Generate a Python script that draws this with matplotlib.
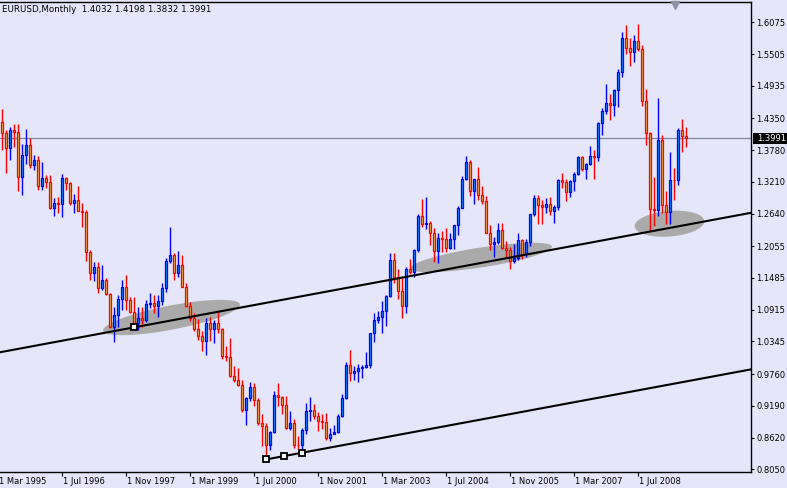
import numpy as np
import matplotlib
matplotlib.use("Agg")
import matplotlib.pyplot as plt
from matplotlib.patches import Polygon, Rectangle
from matplotlib.transforms import blended_transform_factory

# EURUSD monthly bars, bar 1 = Apr 1995 (months counted from Mar 1995)
opens = [1.4285, 1.4088, 1.3818, 1.4142, 1.4106, 1.3298, 1.3693, 1.3872, 1.3513, 1.3603,
         1.3136, 1.3280, 1.3208, 1.2741, 1.2831, 1.2813, 1.3280, 1.3190, 1.2831, 1.2885,
         1.2687, 1.2669, 1.1951, 1.1574, 1.1682, 1.1305, 1.1448, 1.1197, 1.0605, 1.0820,
         1.1107, 1.1323, 1.1089, 1.0874, 1.0677, 1.0766, 1.0730, 1.1018, 1.1036, 1.0982,
         1.1071, 1.1305, 1.1790, 1.1897, 1.1574, 1.1718, 1.1330, 1.0985, 1.0770, 1.0575,
         1.0435, 1.0348, 1.0675, 1.0570, 1.0682, 1.0575, 1.0080, 1.0070, 0.9725, 0.9645,
         0.9560, 0.9120, 0.9330, 0.9530, 0.9300, 0.8880, 0.8825, 0.8480, 0.8725, 0.9390,
         0.9350, 0.9200, 0.8790, 0.8890, 0.8490, 0.8480, 0.8750, 0.9100, 0.9110, 0.9000,
         0.8920, 0.8900, 0.8610, 0.8690, 0.8720, 0.9010, 0.9330, 0.9920, 0.9780, 0.9810,
         0.9870, 0.9890, 0.9920, 1.0490, 1.0730, 1.0790, 1.0900, 1.1160, 1.1800, 1.1500,
         1.1250, 1.0980, 1.1650, 1.1600, 1.1990, 1.2590, 1.2450, 1.2480, 1.2300, 1.1970,
         1.2200, 1.2180, 1.2020, 1.2180, 1.2430, 1.2750, 1.3270, 1.3560, 1.3040, 1.3260,
         1.2970, 1.2870, 1.2300, 1.2100, 1.2130, 1.2340, 1.2020, 1.1990, 1.1790, 1.1840,
         1.2160, 1.1920, 1.2130, 1.2630, 1.2920, 1.2790, 1.2760, 1.2810, 1.2680, 1.2760,
         1.3240, 1.3200, 1.3030, 1.3230, 1.3350, 1.3650, 1.3450, 1.3530, 1.3680, 1.3650,
         1.4260, 1.4480, 1.4630, 1.4590, 1.4860, 1.5180, 1.5790, 1.5610, 1.5550, 1.5740,
         1.5600, 1.4670, 1.4090, 1.2730, 1.2700, 1.3970, 1.2800, 1.2670, 1.3250, 1.3240,
         1.4150, 1.4032]
highs = [1.4519, 1.4142, 1.4195, 1.4249, 1.4249, 1.3890, 1.4160, 1.3998, 1.3693, 1.3675,
         1.3567, 1.3334, 1.3334, 1.2921, 1.2939, 1.3352, 1.3298, 1.3208, 1.2993, 1.3136,
         1.2831, 1.2705, 1.1990, 1.1772, 1.1772, 1.1718, 1.1484, 1.1215, 1.0964, 1.1179,
         1.1448, 1.1538, 1.1143, 1.1143, 1.0964, 1.0964, 1.1089, 1.1215, 1.1179, 1.1179,
         1.1395, 1.1843, 1.2400, 1.1933, 1.1969, 1.1904, 1.1400, 1.1055, 1.0860, 1.0750,
         1.0530, 1.0760, 1.0780, 1.0730, 1.0880, 1.0580, 1.0270, 1.0410, 0.9900, 0.9860,
         0.9660, 0.9350, 0.9620, 0.9600, 0.9330, 0.9040, 0.8880, 0.8730, 0.9450, 0.9595,
         0.9370, 0.9370, 0.9100, 0.8950, 0.8640, 0.8790, 0.9240, 0.9340, 0.9230, 0.9080,
         0.9050, 0.9060, 0.8790, 0.8840, 0.9050, 0.9400, 0.9970, 1.0190, 0.9900, 0.9940,
         0.9930, 1.0150, 1.0490, 1.0860, 1.0900, 1.1080, 1.1180, 1.1930, 1.1930, 1.1640,
         1.1490, 1.1680, 1.1830, 1.2010, 1.2640, 1.2900, 1.2930, 1.2500, 1.2380, 1.2290,
         1.2320, 1.2390, 1.2300, 1.2430, 1.2780, 1.3310, 1.3670, 1.3600, 1.3270, 1.3480,
         1.3130, 1.2950, 1.2440, 1.2220, 1.2480, 1.2470, 1.2140, 1.2040, 1.2100, 1.2300,
         1.2190, 1.2180, 1.2640, 1.2980, 1.2970, 1.2890, 1.2920, 1.2930, 1.2790, 1.3260,
         1.3370, 1.3260, 1.3250, 1.3390, 1.3680, 1.3680, 1.3550, 1.3850, 1.3790, 1.4280,
         1.4530, 1.4970, 1.4780, 1.4880, 1.5240, 1.5900, 1.6020, 1.5800, 1.5840, 1.6038,
         1.5670, 1.4870, 1.4110, 1.3300, 1.4720, 1.4060, 1.3050, 1.3740, 1.3460, 1.4170,
         1.4340, 1.4198]
lows = [1.3782, 1.3370, 1.3603, 1.3836, 1.3046, 1.2975, 1.3531, 1.3459, 1.3423, 1.3064,
        1.3064, 1.3100, 1.2723, 1.2598, 1.2651, 1.2580, 1.3064, 1.2795, 1.2651, 1.2680,
        1.2400, 1.1790, 1.1448, 1.1430, 1.1215, 1.1269, 1.1179, 1.0587, 1.0335, 1.0605,
        1.0910, 1.0910, 1.0856, 1.0599, 1.0551, 1.0605, 1.0695, 1.0946, 1.0856, 1.0784,
        1.1000, 1.1233, 1.1754, 1.1448, 1.1502, 1.1320, 1.0960, 1.0710, 1.0540, 1.0375,
        1.0180, 1.0110, 1.0350, 1.0320, 1.0490, 1.0030, 0.9990, 0.9700, 0.9610, 0.9540,
        0.9080, 0.8840, 0.9270, 0.9180, 0.8840, 0.8470, 0.8228, 0.8400, 0.8700, 0.9190,
        0.9050, 0.8780, 0.8760, 0.8440, 0.8420, 0.8350, 0.8680, 0.8910, 0.8950, 0.8740,
        0.8780, 0.8580, 0.8560, 0.8680, 0.8700, 0.8990, 0.9310, 0.9640, 0.9660, 0.9610,
        0.9690, 0.9870, 0.9860, 1.0330, 1.0680, 1.0500, 1.0630, 1.1150, 1.1400, 1.1110,
        1.0760, 1.0850, 1.1550, 1.1500, 1.1960, 1.2400, 1.2370, 1.2080, 1.1770, 1.1760,
        1.1960, 1.1950, 1.2000, 1.2000, 1.2260, 1.2740, 1.3250, 1.2960, 1.2810, 1.2880,
        1.2810, 1.2290, 1.1980, 1.1870, 1.2090, 1.2000, 1.1870, 1.1640, 1.1750, 1.1800,
        1.1830, 1.1860, 1.2060, 1.2600, 1.2460, 1.2460, 1.2660, 1.2620, 1.2480, 1.2700,
        1.3100, 1.2860, 1.2940, 1.3050, 1.3330, 1.3410, 1.3260, 1.3520, 1.3260, 1.3580,
        1.4050, 1.4420, 1.4320, 1.4400, 1.4550, 1.5100, 1.5510, 1.5290, 1.5370, 1.5560,
        1.4580, 1.3880, 1.2330, 1.2420, 1.2600, 1.2660, 1.2460, 1.2460, 1.2890, 1.3160,
        1.3750, 1.3832]
closes = opens[1:] + [1.3991]
closes[170] = 1.4030

date_labels = ["1 Mar 1995", "1 Jul 1996", "1 Nov 1997", "1 Mar 1999", "1 Jul 2000",
               "1 Nov 2001", "1 Mar 2003", "1 Jul 2004", "1 Nov 2005", "1 Mar 2007",
               "1 Jul 2008"]
date_months = [0, 16, 32, 48, 64, 80, 96, 112, 128, 144, 160]
price_ticks = [1.6075, 1.5505, 1.4935, 1.4350, 1.3780, 1.3210, 1.2640, 1.2055,
               1.1485, 1.0915, 1.0345, 0.9760, 0.9190, 0.8620, 0.8050]
last_price = 1.3991
title = "EURUSD,Monthly  1.4032 1.4198 1.3832 1.3991"

# channel: base line anchors and one point on the parallel line
base_months = [67, 76]
base_prices = [0.8228, 0.8348]
upper_month = 34
upper_price = 1.0599

# grey ellipses: centre month, centre price, half length (months), half height, tilt
ellipses = [(43.3, 1.0775, 17.1, 0.022, 0.00134),
            (120.7, 1.1853, 17.7, 0.018, 0.00109),
            (167.8, 1.2459, 8.7, 0.023, 0.0005)]

BG = "#e6e6fa"
fig = plt.figure(figsize=(7.87, 4.88), dpi=100)
fig.patch.set_facecolor(BG)
ax = fig.add_axes([0, 16 / 488, 751 / 787, 470.3 / 488])
ax.set_facecolor(BG)
ax.set_xlim(0.425, 188.175)
ax.set_ylim(0.80015, 1.64449)

o = np.array(opens)
h = np.array(highs)
l = np.array(lows)
c = np.array(closes)
x = np.arange(1, len(c) + 1)
up = c > o

for cm, cp, a, b, tilt in ellipses:
    t = np.linspace(0, 2 * np.pi, 120)
    pts = np.column_stack([cm + a * np.cos(t), cp + a * tilt * np.cos(t) + b * np.sin(t)])
    ax.add_patch(Polygon(pts, closed=True, fc="#aaaaaa", ec="none", zorder=1))

ax.axhline(last_price, color="#7f8898", lw=0.9, zorder=1.5)

for mask, edge, fill in [(up, "#0000ff", "#0096ff"), (~up, "#ff0000", "#e0c050")]:
    ax.vlines(x[mask], l[mask], h[mask], color=edge, lw=1.0, zorder=2)
    ax.bar(x[mask], np.abs(c - o)[mask], bottom=np.minimum(o, c)[mask], width=0.55,
           color=fill, edgecolor=edge, lw=0.9, zorder=3)

slope = (base_prices[1] - base_prices[0]) / (base_months[1] - base_months[0])
xe = 195
ax.plot([base_months[0], xe], [base_prices[0], base_prices[0] + slope * (xe - base_months[0])],
        color="black", lw=1.5, zorder=4)
ax.plot([-5, xe], [upper_price + slope * (-5 - upper_month), upper_price + slope * (xe - upper_month)],
        color="black", lw=1.5, zorder=4)
mid_m = (base_months[0] + base_months[1]) / 2
ax.plot(base_months + [mid_m, upper_month],
        base_prices + [(base_prices[0] + base_prices[1]) / 2, upper_price],
        ls="none", marker="s", ms=4.3, mfc="white", mec="black", mew=1.3, zorder=5)

# chart shift marker at top
ax.plot(169.05, 0.994, marker="v", ms=6, color="#8a94a6", ls="none",
        transform=blended_transform_factory(ax.transData, ax.transAxes), clip_on=False, zorder=6)

for s in ["top", "right", "bottom"]:
    ax.spines[s].set_color("black")
    ax.spines[s].set_linewidth(1)
ax.spines["left"].set_visible(False)

ax.yaxis.tick_right()
ax.set_yticks(price_ticks)
ax.set_yticklabels(["%.4f" % v for v in price_ticks])
ax.tick_params(axis="y", direction="out", length=2.5, width=0.8, pad=1.5, labelsize=6)
ax.set_xticks(date_months[1:])
ax.set_xticklabels([])
ax.tick_params(axis="x", direction="out", length=3, width=0.8)
for m, lab in zip(date_months, date_labels):
    ax.text(m + 0.1, -0.021, lab, transform=ax.get_xaxis_transform(), ha="left", va="center",
            fontsize=6, clip_on=False)

fig.text(2 / 787, 1 - 9.5 / 488, title, ha="left", va="center", fontsize=6.3)

# price label box on the right axis
fig.canvas.draw()
yp = ax.transData.transform((0, last_price))[1]
fig.patches.append(Rectangle((753 / 787, (yp - 5.5) / 488), 34 / 787, 11 / 488,
                             transform=fig.transFigure, fc="black", ec="none", zorder=10))
fig.text(757 / 787, yp / 488, "%.4f" % last_price, color="white", ha="left", va="center",
         fontsize=6, zorder=11)

fig.savefig("out.png", dpi=100, facecolor=BG)
